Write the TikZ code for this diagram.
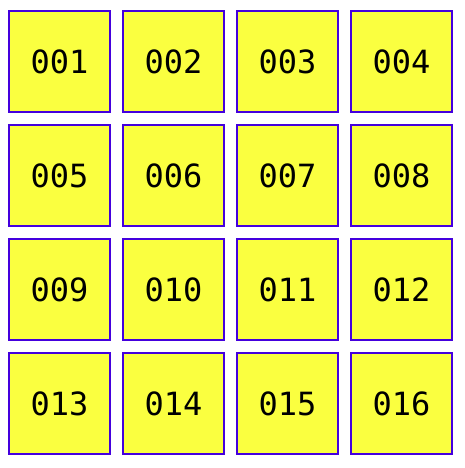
\documentclass[tikz,border=0pt]{standalone}
\usepackage{fontspec}
\setmonofont{DejaVu Sans Mono}
\definecolor{cellfill}{RGB}{250,255,64}
\definecolor{celledge}{RGB}{68,0,221}

\begin{document}
\begin{tikzpicture}[x=1pt,y=1pt,
		cell/.style={draw=celledge, fill=cellfill, line width=2.3pt, minimum size=100.7pt, inner sep=0pt, font=\ttfamily\fontsize{32}{32}\selectfont}]
		%%%%% START %%%%%
		
		\useasboundingbox (0, 0) rectangle (465, 468);
		
		\foreach \r in {0,...,3} {
			\foreach \c in {1,...,4} {
				\pgfmathtruncatemacro{\n}{4*\r+\c}
				\node[cell] (b\n) at ({59.5+114*(\c-1)}, {406.5-114*\r}) {\ifnum\n<10 00\n\else 0\n\fi};
			}
		}
		
		%%%%% END %%%%%
	\end{tikzpicture}
\end{document}
